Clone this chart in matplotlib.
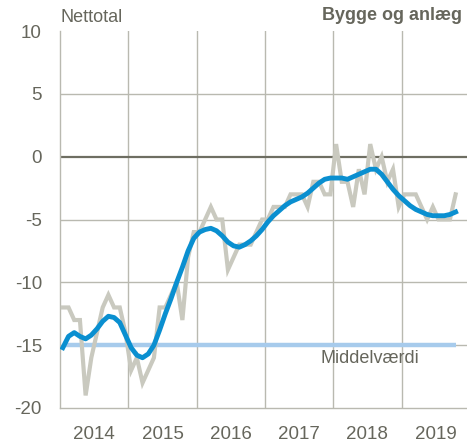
import numpy as np
import matplotlib
matplotlib.use("Agg")
import matplotlib.pyplot as plt

plt.rcParams['font.family'] = ['Liberation Sans Narrow', 'Liberation Sans', 'DejaVu Sans']

# Monthly net totals, Jan 2014 - Oct 2019
raw = [-12, -12, -13, -13, -19, -16, -14, -12, -11, -12, -12, -14,
       -17, -16, -18, -17, -16, -12, -12, -11, -10, -13, -8, -6,
       -6, -5, -4, -5, -5, -9, -8, -7, -7, -7, -6, -5,
       -5, -4, -4, -4, -3, -3, -3, -4, -2, -2, -3, -3,
       1, -2, -2, -4, -1, -3, 1, -1, 0, -2, -1, -4,
       -3, -3, -3, -4, -5, -4, -5, -5, -5, -3]
trend = [-15.2, -14.3, -14.0, -14.3, -14.5, -14.2, -13.7, -13.1, -12.7, -12.8, -13.2, -14.2,
         -15.2, -15.8, -16.0, -15.7, -15.0, -13.8, -12.5, -11.3, -10.0, -8.8, -7.5, -6.5,
         -6.0, -5.8, -5.7, -5.9, -6.3, -6.8, -7.1, -7.2, -7.0, -6.7, -6.3, -5.8,
         -5.2, -4.7, -4.3, -3.9, -3.6, -3.4, -3.2, -2.9, -2.5, -2.1, -1.8, -1.7,
         -1.7, -1.7, -1.8, -1.6, -1.4, -1.2, -1.0, -1.0, -1.4, -2.0, -2.6, -3.1,
         -3.5, -3.9, -4.2, -4.4, -4.6, -4.7, -4.7, -4.7, -4.6, -4.4]
mean_value = -15
years = ['2014', '2015', '2016', '2017', '2018', '2019']

months = np.arange(len(raw)) + 0.5

txt = '#66665c'
grid = '#b9b9b0'

fig = plt.figure(figsize=(4.67, 4.46), dpi=100)
ax = fig.add_axes([60/467, 1 - 408/446, 1 - 60/467, (408 - 31)/446])

ax.set_xlim(0, 71.5)
ax.set_ylim(-20, 10)

for k in range(1, len(years)):
    ax.axvline(12 * k, color=grid, lw=1, zorder=1)
for v in [-15, -10, -5, 5]:
    ax.axhline(v, color=grid, lw=1, zorder=1)
ax.axhline(0, color='#6e6e62', lw=1.6, zorder=2)

ax.plot([months[0], months[-1]], [mean_value, mean_value], color='#a7cbec', lw=3.2, zorder=3,
        solid_capstyle='butt')
ax.plot(months, raw, color='#c9c9bf', lw=3, zorder=4, solid_joinstyle='miter')
ax.plot(months, trend, color='#0a8fd0', lw=3.5, zorder=5)

ax.text(45.7, -16.1, 'Middelværdi', color=txt, fontsize=13, va='center', ha='left')

ax.set_yticks([-20, -15, -10, -5, 0, 5, 10])
ax.set_yticklabels(['-20', '-15', '-10', '-5', '0', '5', '10'])
ax.set_xticks([12 * k + 6 for k in range(len(years))])
ax.set_xticklabels(years)
ax.tick_params(axis='both', length=0, colors=txt, labelsize=13.5)
ax.tick_params(axis='y', pad=13)
ax.tick_params(axis='x', pad=13)

for s in ['top', 'right']:
    ax.spines[s].set_visible(False)
for s in ['left', 'bottom']:
    ax.spines[s].set_color(grid)
    ax.spines[s].set_linewidth(1)

fig.text(61/467, 1 - 18/446, 'Nettotal', color=txt, fontsize=13, va='center', ha='left')
fig.text(462/467, 1 - 15/446, 'Bygge og anlæg', color=txt, fontsize=13, va='center', ha='right',
         fontweight='bold')

fig.savefig('out.png', dpi=100)
